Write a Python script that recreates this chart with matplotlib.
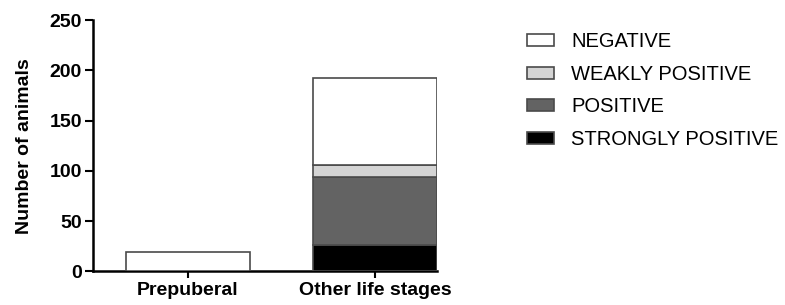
import matplotlib
matplotlib.use("Agg")
import matplotlib.pyplot as plt
import numpy as np
from matplotlib.patches import Patch

plt.rcParams["font.family"] = ["Liberation Sans", "DejaVu Sans"]

# ── data ──────────────────────────────────────────────────────────────────────
groups = ["Prepuberal", "Other life stages"]
strongly_positive = [0, 26]
positive = [0, 68]
weakly_positive = [0, 12]
negative = [19, 86]

series = [
    ("STRONGLY POSITIVE", strongly_positive, "#000000"),
    ("POSITIVE", positive, "#636363"),
    ("WEAKLY POSITIVE", weakly_positive, "#d4d4d4"),
    ("NEGATIVE", negative, "#ffffff"),
]

fig = plt.figure(figsize=(7.85, 3.05), dpi=100)
ax = fig.add_axes([0.1185, 0.1105, 0.4382, 0.8235])

x = np.arange(len(groups))
bottom = np.zeros(len(groups))
for label, vals, color in series:
    vals = np.array(vals, dtype=float)
    ax.bar(x, vals, width=0.662, bottom=bottom, color=color,
           edgecolor="#4a4a4a", linewidth=1.2, label=label, zorder=3)
    bottom += vals

ax.set_xlim(-0.506, 1.331)
ax.set_ylim(0, 250)
ax.set_yticks([0, 50, 100, 150, 200, 250])
ax.set_xticks(x)
ax.set_xticklabels(groups, fontsize=14, fontweight="bold")
ax.tick_params(axis="y", labelsize=14, width=1.5, length=6, pad=2)
ax.tick_params(axis="x", width=1.5, length=5, pad=3)
for t in ax.get_yticklabels():
    t.set_fontweight("bold")
ax.set_ylabel("Number of animals", fontsize=14, fontweight="bold", labelpad=12)

for s in ["top", "right"]:
    ax.spines[s].set_visible(False)
for s in ["left", "bottom"]:
    ax.spines[s].set_linewidth(1.8)

# legend, NEGATIVE on top
handles = [Patch(facecolor=c, edgecolor="#4a4a4a", linewidth=1.2, label=l)
           for l, _, c in series[::-1]]
fig.legend(handles=handles, loc="upper left", bbox_to_anchor=(0.648, 0.953),
           frameon=False, fontsize=14.5, handlelength=1.35, handleheight=0.55,
           labelspacing=0.67, handletextpad=0.85)

plt.savefig("out.png", dpi=100)
plt.close()
